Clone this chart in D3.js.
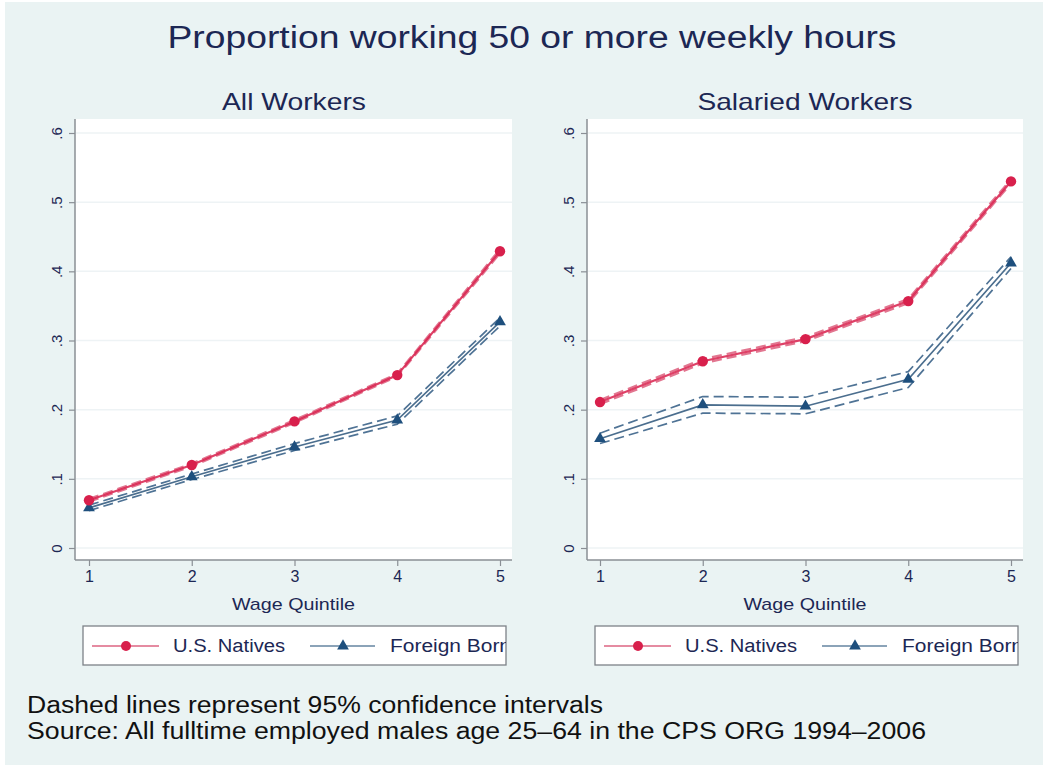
<!DOCTYPE html>
<html>
<head>
<meta charset="utf-8">
<script src="https://cdn.jsdelivr.net/npm/d3@7"></script>
<style>
  html, body { margin: 0; padding: 0; background: #ffffff; }
  svg { display: block; font-family: "Liberation Sans", Arial, Helvetica, sans-serif; }
</style>
</head>
<body>
<svg id="chart" width="1048" height="767"></svg>
<script>
// ---------- data ----------
const quintiles = [1, 2, 3, 4, 5];
const yTickValues = [0, 0.1, 0.2, 0.3, 0.4, 0.5, 0.6];
const yTickLabels = ["0", ".1", ".2", ".3", ".4", ".5", ".6"];
const xTickLabels = ["1", "2", "3", "4", "5"];

const allNatives   = [0.069, 0.120, 0.183, 0.250, 0.429];
const allNativesLo = [0.067, 0.118, 0.181, 0.248, 0.426];
const allNativesHi = [0.071, 0.122, 0.185, 0.252, 0.432];
const allForeign   = [0.058, 0.103, 0.146, 0.185, 0.327];
const allForeignLo = [0.054, 0.099, 0.141, 0.179, 0.321];
const allForeignHi = [0.062, 0.107, 0.151, 0.191, 0.333];

const salNatives   = [0.211, 0.270, 0.302, 0.357, 0.530];
const salNativesLo = [0.208, 0.267, 0.299, 0.354, 0.527];
const salNativesHi = [0.214, 0.273, 0.305, 0.360, 0.533];
const salForeign   = [0.158, 0.207, 0.205, 0.244, 0.412];
const salForeignLo = [0.151, 0.195, 0.194, 0.232, 0.404];
const salForeignHi = [0.166, 0.219, 0.218, 0.255, 0.421];

const panelTitles = ["All Workers", "Salaried Workers"];
const seriesNames = ["U.S. Natives", "Foreign Born"];
const mainTitle = "Proportion working 50 or more weekly hours";
const xTitle = "Wage Quintile";
const notes = [
  "Dashed lines represent 95% confidence intervals",
  "Source: All fulltime employed males age 25\u201364 in the CPS ORG 1994\u20132006"
];

// ---------- style ----------
const BG = "#eaf3f3";
const TXT = "#1c2754";
const RED = "#d8204c";
const RED_CI = "#e27690";
const BLUE = "#1e4f7d";
const BLUE_LINE = "#4b6e8e";
const BLUE_CI = "#4f7395";

const svg = d3.select("#chart");

svg.append("rect").attr("x", 5).attr("y", 2).attr("width", 1038).attr("height", 763).attr("fill", BG);

function fitText(g, x, y, str, size, width, anchor, color) {
  const t = g.append("text")
    .attr("x", x).attr("y", y)
    .attr("font-size", size)
    .attr("fill", color || TXT)
    .attr("text-anchor", anchor || "start")
    .text(str);
  if (width) t.attr("textLength", width).attr("lengthAdjust", "spacingAndGlyphs");
  return t;
}

// Title
fitText(svg, 532, 48, mainTitle, 31, 729, "middle", TXT);

const panels = [
  { ax: 75, right: 512, xr: [89, 500], title: panelTitles[0], tw: 144, tx: 294,
    nat: allNatives, natLo: allNativesLo, natHi: allNativesHi,
    for: allForeign, forLo: allForeignLo, forHi: allForeignHi },
  { ax: 587, right: 1023, xr: [600, 1011], title: panelTitles[1], tw: 215, tx: 805,
    nat: salNatives, natLo: salNativesLo, natHi: salNativesHi,
    for: salForeign, forLo: salForeignLo, forHi: salForeignHi }
];

const TOP = 119, AXY = 560;

panels.forEach((p, pi) => {
  const g = svg.append("g");
  const x = d3.scaleLinear().domain([1, 5]).range(p.xr);
  const y = d3.scaleLinear().domain([0, 0.6]).range([548, 133]);

  g.append("rect").attr("x", p.ax).attr("y", TOP).attr("width", p.right - p.ax).attr("height", AXY - TOP).attr("fill", "#ffffff");

  g.selectAll("line.grid").data(yTickValues).join("line")
    .attr("x1", p.ax + 1).attr("x2", p.right)
    .attr("y1", d => y(d)).attr("y2", d => y(d))
    .attr("stroke", "#eef3f5").attr("stroke-width", 1.5);

  fitText(g, p.tx, 110, p.title, 24, p.tw, "middle", TXT);

  const yAxis = d3.axisLeft(y).tickValues(yTickValues).tickSize(6).tickFormat((d, i) => yTickLabels[i]);
  const ya = g.append("g").attr("transform", `translate(${p.ax},0)`).call(yAxis);
  ya.select(".domain").remove();
  ya.selectAll(".tick line").attr("stroke", "#8a8f95").attr("stroke-width", 1.2);
  ya.selectAll(".tick text")
    .attr("font-size", 15).attr("fill", TXT)
    .attr("font-family", "Liberation Sans, Arial, sans-serif")
    .attr("x", null).attr("dy", null)
    .attr("text-anchor", "middle")
    .attr("transform", "translate(-13,0) rotate(-90)")
    .attr("y", 0);
  g.append("line").attr("x1", p.ax).attr("x2", p.ax).attr("y1", TOP).attr("y2", AXY)
    .attr("stroke", "#8a8f95").attr("stroke-width", 1.5);

  const xAxis = d3.axisBottom(x).tickValues(quintiles).tickSize(6).tickFormat((d, i) => xTickLabels[i]);
  const xa = g.append("g").attr("transform", `translate(0,${AXY})`).call(xAxis);
  xa.select(".domain").remove();
  xa.selectAll(".tick line").attr("stroke", "#8a8f95").attr("stroke-width", 1.2);
  xa.selectAll(".tick text").attr("font-size", 16).attr("fill", TXT)
    .attr("font-family", "Liberation Sans, Arial, sans-serif").attr("y", 11).attr("dy", "0.71em");
  g.append("line").attr("x1", p.ax).attr("x2", p.right).attr("y1", AXY).attr("y2", AXY)
    .attr("stroke", "#8a8f95").attr("stroke-width", 1.5);

  fitText(g, (p.ax + p.right) / 2, 610, xTitle, 17, 123, "middle", TXT);

  const line = d3.line().x((d, i) => x(quintiles[i])).y(d => y(d));

  [p.forLo, p.forHi].forEach(arr => {
    g.append("path").attr("d", line(arr)).attr("fill", "none")
      .attr("stroke", BLUE_CI).attr("stroke-width", 1.7).attr("stroke-dasharray", "10,5");
  });
  g.append("path").attr("d", line(p.for)).attr("fill", "none")
    .attr("stroke", BLUE_LINE).attr("stroke-width", 1.7);

  [p.natLo, p.natHi].forEach(arr => {
    g.append("path").attr("d", line(arr)).attr("fill", "none")
      .attr("stroke", RED_CI).attr("stroke-width", 2.2).attr("stroke-dasharray", "10,5");
  });
  g.append("path").attr("d", line(p.nat)).attr("fill", "none")
    .attr("stroke", RED).attr("stroke-width", 2.2).attr("stroke-opacity", 0.85);

  const tri = d3.symbol().type(d3.symbolTriangle).size(60);
  g.selectAll("path.tri").data(p.for).join("path")
    .attr("transform", (d, i) => `translate(${x(quintiles[i])},${y(d)})`)
    .attr("d", tri).attr("fill", BLUE);
  g.selectAll("circle.nat").data(p.nat).join("circle")
    .attr("cx", (d, i) => x(quintiles[i])).attr("cy", d => y(d))
    .attr("r", 5.2).attr("fill", RED);

  // legend
  const lx = p.ax + 8, ly = 626, lw = 423, lh = 39;
  const clipId = "legclip" + pi;
  svg.append("clipPath").attr("id", clipId).append("rect")
    .attr("x", lx).attr("y", ly).attr("width", lw).attr("height", lh);
  const lg = g.append("g");
  lg.append("rect").attr("x", lx).attr("y", ly).attr("width", lw).attr("height", lh)
    .attr("fill", "#ffffff").attr("stroke", "#7d8288").attr("stroke-width", 1.3);
  const lgc = lg.append("g").attr("clip-path", `url(#${clipId})`);
  const my = 646;
  lgc.append("line").attr("x1", lx + 9).attr("x2", lx + 76).attr("y1", my).attr("y2", my)
    .attr("stroke", "#e58ba1").attr("stroke-width", 2);
  lgc.append("circle").attr("cx", lx + 43).attr("cy", my).attr("r", 5).attr("fill", RED);
  fitText(lgc, lx + 90, my + 6, seriesNames[0], 18, 112, "start", TXT);
  lgc.append("line").attr("x1", lx + 227).attr("x2", lx + 292).attr("y1", my).attr("y2", my)
    .attr("stroke", "#8ba3b8").attr("stroke-width", 2);
  lgc.append("path").attr("transform", `translate(${lx + 260},${my})`).attr("d", tri).attr("fill", BLUE);
  fitText(lgc, lx + 307, my + 6, seriesNames[1], 18, 121, "start", TXT);
});

fitText(svg, 27, 713, notes[0], 23, 576, "start", "#111111");
fitText(svg, 27, 739, notes[1], 23, 899, "start", "#111111");
</script>
</body>
</html>
